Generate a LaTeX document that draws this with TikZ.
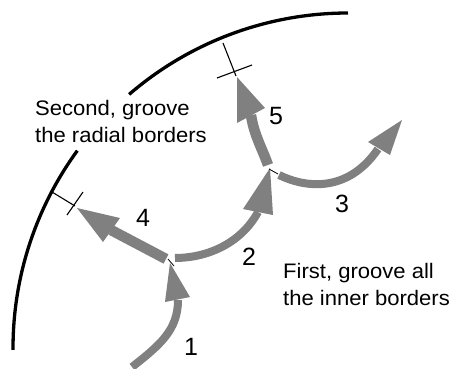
\documentclass[tikz,border=0pt]{standalone}
\usepackage{fontspec}
\setmainfont{Liberation Sans}
\newfontfamily\lblfont[FakeStretch=1.05]{Liberation Sans}
\definecolor{arrowgray}{RGB}{128,128,128}
\begin{document}
\begin{tikzpicture}[x=1pt,y=-1pt,
  groove/.style={draw=arrowgray, line width=8pt},
  radial/.style={draw=arrowgray, line width=10.5pt},
  headfill/.style={fill=arrowgray},
  tick/.style={draw=black, line width=1.1pt},
  joint/.style={draw=black, line width=0.8pt},
  border/.style={draw=black, line width=3.3pt},
  txt/.style={anchor=base west, inner sep=0pt, font=\lblfont\fontsize{21}{25}\selectfont},
  num/.style={inner sep=0pt, font=\fontsize{25}{29}\selectfont}]
\useasboundingbox (0,0) rectangle (453,368);
% outer border (arc)
\coordinate (C) at (348,348);
\draw[border] (C) ++(179.7:335) arc[start angle=179.7, end angle=216.1, radius=335];
\draw[border] (C) ++(229.2:335) arc[start angle=229.2, end angle=270, radius=335];
% junctions
\coordinate (j1) at (172,262);
\coordinate (j2) at (271,170);
% arrow 1
\coordinate (s1) at (132,367);
\coordinate (b1) at (178,300);
\draw[groove] (s1) .. controls (160,345) and (178,330) .. (b1);
\fill[headfill] (170,263) -- (165,302) -- (190,297) -- cycle;
% arrow 2
\coordinate (s2) at (175,258);
\coordinate (b2) at (258,212);
\draw[groove] (s2) .. controls (205,258) and (240,245) .. (b2);
\fill[headfill] (270,168) -- (243,209) -- (273,215) -- cycle;
% arrow 3
\coordinate (s3) at (279,175);
\coordinate (b3) at (378,149);
\draw[groove] (s3) .. controls (310,190) and (350,190) .. (b3);
\fill[headfill] (402,120) -- (368,142) -- (390,155) -- cycle;
% arrow 4
\coordinate (s4) at (166,259);
\coordinate (b4) at (111,230);
\draw[radial] (s4) -- (b4);
\fill[headfill] (77,208) -- (103,242) -- (120,218) -- cycle;
% arrow 5
\coordinate (s5) at (268,165);
\coordinate (b5) at (251,115);
\draw[radial] (s5) .. controls (262,148) and (254,135) .. (b5);
\fill[headfill] (237,77) -- (237,123) -- (265,108) -- cycle;
% junction marks
\draw[joint] (168,259) -- (174,266);
\draw[joint] (269,169) -- (278,174);
% cross marks
\coordinate (x4a) at (52,192);
\coordinate (x4b) at (75,206);
\draw[tick] (x4a) -- (x4b);
\draw[tick] (67,215) -- (83,192);
\coordinate (x5a) at (223,43);
\coordinate (x5b) at (236,76);
\draw[tick] (x5a) -- (x5b);
\draw[tick] (217,78) -- (252,65);
% labels
\node[num] (n1) at (191,347) {1};
\node[num] (n2) at (249,257) {2};
\node[num] (n3) at (342,204) {3};
\node[num] (n4) at (143,218) {4};
\node[num] (n5) at (276,116) {5};
\node[txt] (t1) at (35,115) {Second, groove};
\node[txt] (t2) at (35,142) {the radial borders};
\node[txt] (t3) at (283,278) {First, groove all};
\node[txt] (t4) at (283,305) {the inner borders};
\end{tikzpicture}
\end{document}
